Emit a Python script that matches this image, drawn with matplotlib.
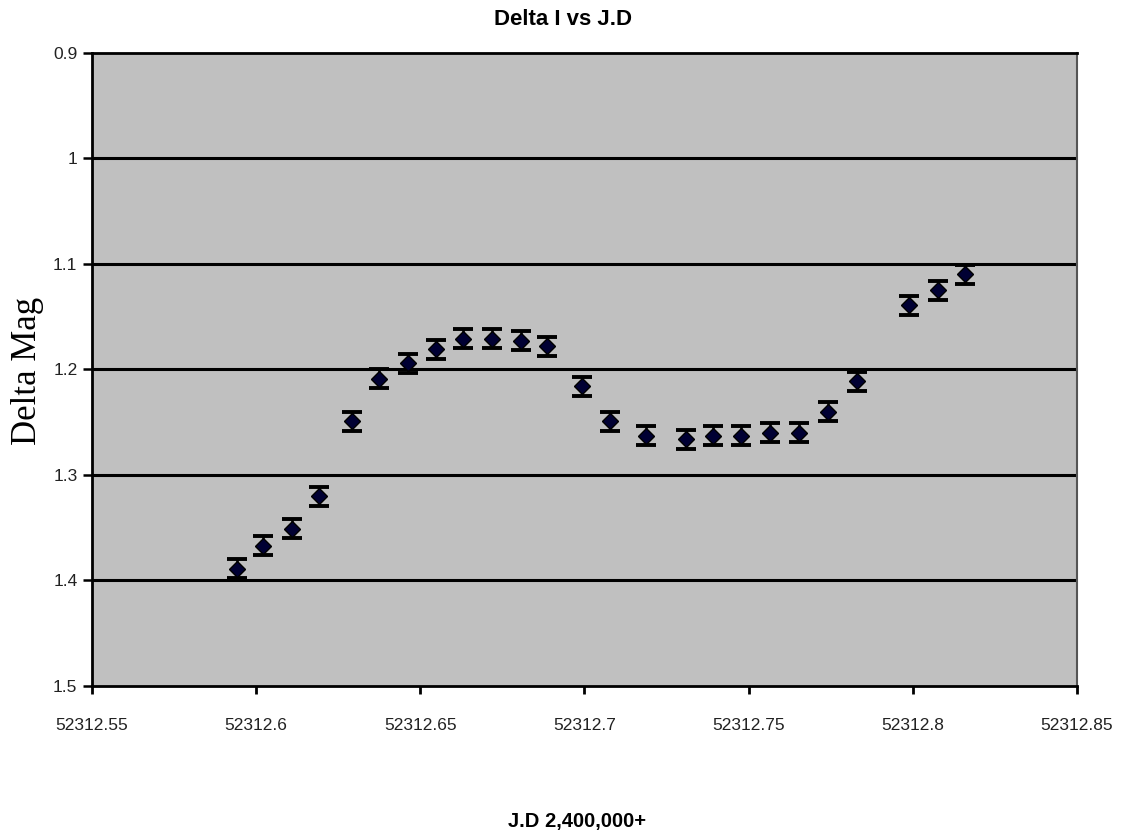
import matplotlib
matplotlib.use('Agg')
import matplotlib.pyplot as plt

# J.D - 2,400,000 and delta I magnitude
jd = [52312.5942, 52312.6021, 52312.6109, 52312.6191, 52312.6292, 52312.6374,
      52312.6462, 52312.6548, 52312.6630, 52312.6718, 52312.6806, 52312.6886,
      52312.6992, 52312.7077, 52312.7187, 52312.7309, 52312.7391, 52312.7476,
      52312.7564, 52312.7653, 52312.7741, 52312.7829, 52312.7988, 52312.8076,
      52312.8158]
dmag = [1.389, 1.367, 1.351, 1.320, 1.249, 1.209, 1.194, 1.181, 1.171, 1.171,
        1.173, 1.178, 1.216, 1.249, 1.263, 1.266, 1.263, 1.263, 1.260, 1.260,
        1.240, 1.211, 1.139, 1.125, 1.110]
err = [0.009] * len(jd)

xticks = [52312.55, 52312.6, 52312.65, 52312.7, 52312.75, 52312.8, 52312.85]
xticklabels = ['52312.55', '52312.6', '52312.65', '52312.7', '52312.75', '52312.8', '52312.85']
yticks = [0.9, 1.0, 1.1, 1.2, 1.3, 1.4, 1.5]
yticklabels = ['0.9', '1', '1.1', '1.2', '1.3', '1.4', '1.5']

plt.rcParams['font.family'] = ['Liberation Sans', 'DejaVu Sans']

fig = plt.figure(figsize=(11.25, 8.33), dpi=100)
ax = fig.add_axes([0.0818, 0.1765, 0.8755, 0.76])
ax.set_facecolor('#c0c0c0')

for y in yticks[1:-1]:
    ax.axhline(y, color='black', lw=2.2, zorder=1)

ax.errorbar(jd, dmag, yerr=err, fmt='D', color='black', mfc='#000033', mec='black',
            ms=8, ecolor='black', elinewidth=1.8, capsize=7, capthick=2.8, zorder=3)

ax.set_xlim(52312.55, 52312.85)
ax.set_ylim(1.5, 0.9)
ax.set_xticks(xticks)
ax.set_xticklabels(xticklabels, color='#222222')
ax.set_yticks(yticks)
ax.set_yticklabels(yticklabels, color='#222222')
ax.tick_params(axis='x', direction='out', length=6, width=2, pad=17, labelsize=12.5)
ax.tick_params(axis='y', direction='out', length=6.5, width=1.8, pad=4, labelsize=12.5)

for s in ['left', 'bottom', 'top']:
    ax.spines[s].set_linewidth(2)
    ax.spines[s].set_color('black')
ax.spines['right'].set_color('#555555')
ax.spines['right'].set_linewidth(1.5)

fig.text(0.5, 0.977, 'Delta I vs J.D', ha='center', va='center', fontsize=16, fontweight='bold')
fig.text(0.513, 0.0135, 'J.D 2,400,000+', ha='center', va='center', fontsize=14.5, fontweight='bold')
fig.text(0.024, 0.555, 'Delta Mag', rotation=90, ha='center', va='center', fontsize=25,
         family=['Liberation Serif', 'DejaVu Serif'])

fig.savefig('out.png', dpi=100)
